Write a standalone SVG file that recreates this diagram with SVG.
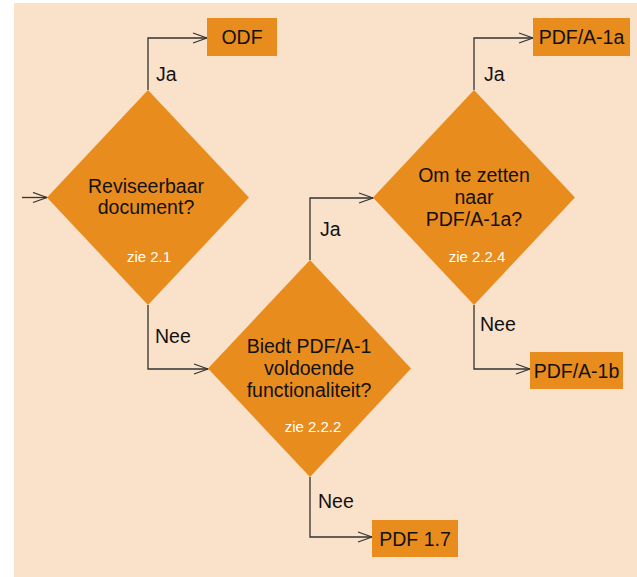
<svg xmlns="http://www.w3.org/2000/svg" width="637" height="577" viewBox="0 0 637 577">
<style>
.bg{fill:#FAE1C9}
.shape{fill:#E98C1E}
.t{font-family:"Liberation Sans",Arial,sans-serif;font-size:19.5px;fill:#111;text-anchor:middle}
.lbl{font-family:"Liberation Sans",Arial,sans-serif;font-size:19.5px;fill:#111}
.ref{font-family:"Liberation Sans",Arial,sans-serif;font-size:15px;fill:#fff;text-anchor:middle}
.c{fill:none;stroke:#333;stroke-width:1.3}
</style>
<defs>
<marker id="arr" viewBox="0 0 16 12" refX="15" refY="6" markerWidth="16" markerHeight="12" markerUnits="userSpaceOnUse" orient="auto">
<path d="M1,1 L15,6 L1,11" fill="none" stroke="#333" stroke-width="1.3"/>
</marker>
</defs>
<rect class="bg" x="14" y="3" width="623" height="574"/>
<g id="connectors">
<path class="c" d="M22,197.5 H47" marker-end="url(#arr)"/>
<path class="c" d="M148,90 V38 H207" marker-end="url(#arr)"/>
<path class="c" d="M148,305 V369 H208" marker-end="url(#arr)"/>
<path class="c" d="M310,260 V198 H373" marker-end="url(#arr)"/>
<path class="c" d="M474,90 V38 H533" marker-end="url(#arr)"/>
<path class="c" d="M474,305 V369 H530" marker-end="url(#arr)"/>
<path class="c" d="M310,477 V537 H372" marker-end="url(#arr)"/>
<text class="lbl" x="156" y="81">Ja</text>
<text class="lbl" x="155" y="343">Nee</text>
<text class="lbl" x="320" y="236">Ja</text>
<text class="lbl" x="484" y="81">Ja</text>
<text class="lbl" x="480" y="331">Nee</text>
<text class="lbl" x="318" y="508">Nee</text>
</g>
<g id="d1">
<polygon class="shape" points="148,90 249,197.5 148,305 47,197.5"/>
<text class="t" x="146" y="193">Reviseerbaar</text>
<text class="t" x="146" y="214">document?</text>
<text class="ref" x="149" y="262">zie 2.1</text>
</g>
<g id="d2">
<polygon class="shape" points="310,260 411,368.5 310,477 208,368.5"/>
<text class="t" x="309" y="353">Biedt PDF/A-1</text>
<text class="t" x="309" y="375">voldoende</text>
<text class="t" x="309" y="397">functionaliteit?</text>
<text class="ref" x="313" y="432">zie 2.2.2</text>
</g>
<g id="d3">
<polygon class="shape" points="474,90 575,197.5 474,305 373,197.5"/>
<text class="t" x="474" y="182">Om te zetten</text>
<text class="t" x="474" y="204">naar</text>
<text class="t" x="474" y="226">PDF/A-1a?</text>
<text class="ref" x="477" y="262">zie 2.2.4</text>
</g>
<g id="odf">
<rect class="shape" x="207" y="18" width="70" height="38"/>
<text class="t" x="242" y="44">ODF</text>
</g>
<g id="pdfa1a">
<rect class="shape" x="533" y="18" width="97" height="38"/>
<text class="t" x="581.5" y="44">PDF/A-1a</text>
</g>
<g id="pdfa1b">
<rect class="shape" x="530" y="352" width="93" height="37"/>
<text class="t" x="576.5" y="378">PDF/A-1b</text>
</g>
<g id="pdf17">
<rect class="shape" x="372" y="520" width="86" height="37"/>
<text class="t" x="415" y="546">PDF 1.7</text>
</g>
</svg>
